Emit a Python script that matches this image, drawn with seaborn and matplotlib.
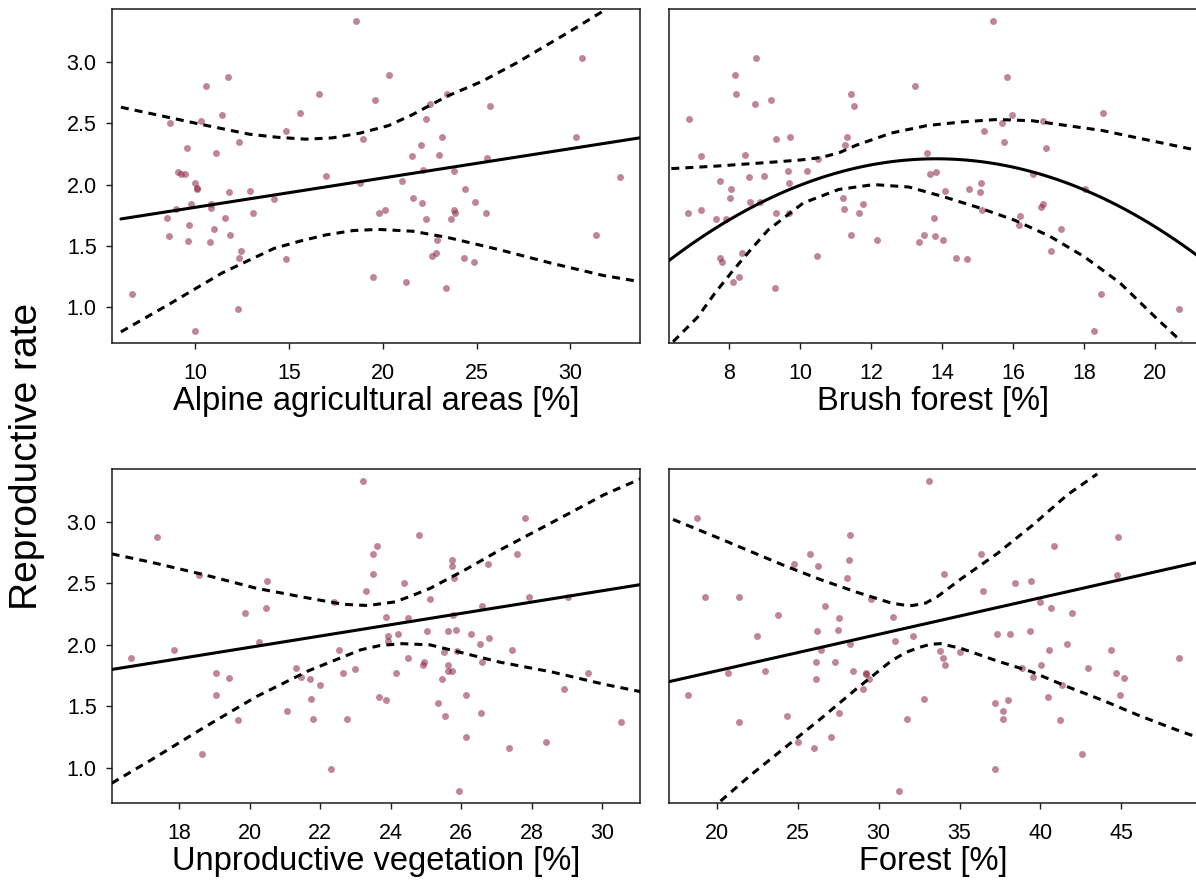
import numpy as np
import pandas as pd
import matplotlib
matplotlib.use("Agg")
import matplotlib.pyplot as plt
import seaborn as sns

# ---------------- data ----------------
# Panel 1: Alpine agricultural areas [%]
alp_x = [18.58, 30.61, 20.33, 11.73, 10.57, 16.62, 19.61, 23.43, 22.49, 25.72,
         15.57, 11.44, 22.31, 10.33, 8.67, 14.83, 30.31, 18.95, 23.14, 12.34,
         22.03, 9.56, 11.09, 21.57, 23.01, 25.55, 9.11, 9.26, 9.46, 22.12,
         23.80, 16.99, 32.64, 10.02, 18.80, 21.01, 10.11, 12.92, 11.83, 24.37,
         14.19, 9.76, 10.85, 10.85, 9.00, 21.62, 22.07, 24.94, 13.10, 19.82,
         20.11, 23.80, 23.84, 25.50, 8.49, 11.59, 22.31, 23.65, 9.67, 11.03,
         8.60, 11.86, 9.63, 10.81, 22.88, 31.38, 12.45, 12.32, 14.87, 22.62,
         22.84, 24.35, 24.85, 19.48, 21.24, 23.39, 6.64, 12.27, 10.00, 10.11]
alp_y = [3.33, 3.03, 2.89, 2.88, 2.80, 2.74, 2.69, 2.74, 2.66, 2.64,
         2.58, 2.57, 2.53, 2.52, 2.50, 2.44, 2.39, 2.37, 2.39, 2.35,
         2.32, 2.30, 2.26, 2.23, 2.24, 2.22, 2.10, 2.09, 2.09, 2.12,
         2.11, 2.07, 2.06, 2.01, 2.01, 2.03, 1.96, 1.95, 1.94, 1.96,
         1.88, 1.84, 1.84, 1.81, 1.80, 1.89, 1.85, 1.86, 1.77, 1.77,
         1.79, 1.79, 1.77, 1.77, 1.73, 1.73, 1.72, 1.72, 1.67, 1.64,
         1.58, 1.59, 1.54, 1.53, 1.55, 1.59, 1.46, 1.40, 1.39, 1.42,
         1.44, 1.40, 1.37, 1.25, 1.21, 1.16, 1.11, 0.99, 0.81, 1.97]
alp_fit_x = [6.05, 33.67]
alp_fit_y = [1.72, 2.38]
alp_up_x = [6.05, 8.2, 10.33, 12.9, 14.4, 15.87, 17.3, 18.82, 20.3, 21.59, 23.43, 25.28, 27.12, 29.89, 31.92]
alp_up_y = [2.63, 2.56, 2.49, 2.41, 2.385, 2.37, 2.38, 2.42, 2.48, 2.57, 2.72, 2.84, 2.99, 3.24, 3.43]
alp_lo_x = [6.05, 8.67, 11.44, 14.21, 15.6, 16.97, 18.4, 19.74, 21.59, 23.43, 26.2, 28.97, 31.73, 33.67]
alp_lo_y = [0.80, 1.03, 1.28, 1.48, 1.54, 1.59, 1.625, 1.635, 1.62, 1.57, 1.47, 1.36, 1.26, 1.21]

# Panel 2: Brush forest [%]
bru_x = [15.42, 8.74, 8.15, 15.84, 8.19, 13.23, 8.71, 9.17, 11.43, 11.52,
         18.53, 15.97, 6.86, 15.68, 16.83, 15.19, 9.32, 9.72, 11.32, 11.25,
         15.74, 16.94, 7.20, 8.45, 10.51, 13.58, 8.54, 8.98, 9.64, 10.20,
         13.66, 13.82, 16.55, 7.74, 9.67, 8.03, 8.01, 14.09, 14.75, 15.10,
         15.07, 18.03, 8.58, 8.86, 11.21, 11.77, 6.84, 7.20, 7.63, 7.89,
         9.30, 9.69, 11.22, 11.65, 15.12, 16.79, 16.83, 13.78, 16.20, 16.17,
         17.36, 11.43, 12.15, 13.35, 13.48, 13.81, 14.03, 7.73, 7.78, 8.36,
         10.48, 14.38, 14.69, 17.08, 8.28, 8.11, 9.28, 18.47, 20.68, 18.29]
bru_y = [3.33, 3.03, 2.89, 2.88, 2.74, 2.80, 2.66, 2.69, 2.74, 2.64,
         2.58, 2.57, 2.53, 2.50, 2.52, 2.44, 2.37, 2.39, 2.39, 2.32,
         2.35, 2.30, 2.23, 2.24, 2.21, 2.26, 2.06, 2.07, 2.11, 2.11,
         2.09, 2.10, 2.09, 2.03, 2.01, 1.96, 1.89, 1.95, 1.96, 2.01,
         1.94, 1.96, 1.86, 1.86, 1.89, 1.84, 1.77, 1.79, 1.72, 1.72,
         1.77, 1.77, 1.80, 1.77, 1.79, 1.82, 1.84, 1.73, 1.74, 1.67,
         1.64, 1.59, 1.55, 1.53, 1.59, 1.58, 1.55, 1.40, 1.37, 1.44,
         1.42, 1.40, 1.39, 1.46, 1.25, 1.21, 1.16, 1.11, 0.99, 0.81]
# fitted quadratic curve, read at several points along it
bru_fit_x = [6.28, 7.5, 8.6, 9.6, 10.58, 12.0, 13.0, 13.86, 14.8, 15.5, 16.54, 17.5, 18.52, 19.3, 20.0, 21.18]
bru_fit_y = [1.38, 1.62, 1.81, 1.95, 2.06, 2.16, 2.20, 2.21, 2.20, 2.17, 2.10, 2.01, 1.88, 1.78, 1.67, 1.42]
bru_up_x = [6.36, 7.6, 9.09, 10.0, 10.58, 11.1, 11.57, 12.57, 13.56, 14.55, 15.54, 16.54, 17.53, 18.52, 19.51, 21.18]
bru_up_y = [2.13, 2.15, 2.18, 2.20, 2.22, 2.26, 2.32, 2.42, 2.48, 2.51, 2.53, 2.52, 2.48, 2.44, 2.38, 2.28]
bru_lo_x = [6.41, 7.1, 7.6, 8.1, 8.6, 9.09, 10.08, 11.08, 12.07, 13.06, 14.05, 15.05, 16.04, 17.03, 18.02, 19.01, 20.01, 20.75]
bru_lo_y = [0.72, 0.92, 1.12, 1.30, 1.47, 1.63, 1.85, 1.96, 2.00, 1.98, 1.90, 1.81, 1.71, 1.58, 1.41, 1.20, 0.92, 0.72]

# Panel 3: Unproductive vegetation [%]
unp_x = [23.21, 27.80, 17.36, 24.79, 23.60, 23.49, 27.58, 25.75, 25.74, 26.76,
         23.49, 18.56, 25.79, 24.39, 20.48, 23.31, 25.12, 27.93, 29.04, 22.39,
         26.59, 20.47, 19.87, 23.88, 24.49, 25.77, 23.93, 24.22, 25.04, 25.63,
         25.86, 26.27, 26.78, 23.92, 26.53, 20.27, 16.64, 17.85, 22.53, 25.51,
         25.89, 27.43, 24.48, 24.94, 24.92, 25.63, 26.58, 21.31, 19.04, 22.64,
         22.98, 24.16, 25.64, 25.73, 29.61, 19.40, 21.44, 21.72, 25.46, 21.98,
         28.93, 19.04, 21.75, 23.68, 23.88, 25.34, 26.14, 21.06, 19.66, 21.80,
         22.77, 25.53, 26.57, 30.53, 26.13, 28.41, 27.37, 18.65, 22.31, 25.94]
unp_y = [3.33, 3.03, 2.88, 2.89, 2.80, 2.74, 2.74, 2.69, 2.64, 2.66,
         2.58, 2.57, 2.54, 2.50, 2.52, 2.44, 2.37, 2.39, 2.39, 2.35,
         2.32, 2.30, 2.26, 2.23, 2.22, 2.24, 2.07, 2.09, 2.11, 2.11,
         2.12, 2.09, 2.06, 2.03, 2.01, 2.02, 1.89, 1.96, 1.96, 1.94,
         1.95, 1.96, 1.89, 1.86, 1.84, 1.84, 1.86, 1.81, 1.77, 1.77,
         1.80, 1.77, 1.79, 1.79, 1.77, 1.73, 1.74, 1.72, 1.72, 1.67,
         1.64, 1.59, 1.56, 1.58, 1.55, 1.53, 1.59, 1.46, 1.39, 1.40,
         1.40, 1.42, 1.45, 1.37, 1.25, 1.21, 1.16, 1.11, 0.99, 0.81]
unp_fit_x = [16.08, 31.09]
unp_fit_y = [1.80, 2.49]
unp_up_x = [16.08, 17.23, 18.71, 20.19, 21.67, 22.65, 23.35, 24.13, 24.6, 25.12, 26.11, 27.09, 28.08, 29.07, 30.05, 31.09]
unp_up_y = [2.74, 2.67, 2.57, 2.46, 2.38, 2.33, 2.32, 2.35, 2.40, 2.46, 2.61, 2.77, 2.92, 3.07, 3.22, 3.35]
unp_lo_x = [16.08, 17.23, 18.71, 20.19, 21.67, 23.15, 23.7, 24.33, 25.12, 26.11, 27.09, 28.57, 30.05, 31.09]
unp_lo_y = [0.875, 1.07, 1.33, 1.58, 1.79, 1.96, 1.995, 2.01, 2.00, 1.93, 1.86, 1.78, 1.68, 1.62]

# Panel 4: Forest [%]
for_x = [33.09, 18.74, 28.23, 44.78, 40.84, 25.75, 36.31, 28.17, 24.77, 26.27,
         34.02, 44.76, 28.06, 38.42, 39.42, 36.46, 19.24, 21.33, 29.52, 39.97,
         26.71, 40.64, 41.97, 23.79, 27.56, 30.87, 22.46, 26.21, 27.47, 32.13,
         37.33, 38.14, 39.36, 28.21, 30.98, 41.65, 26.45, 33.78, 35.00, 40.54,
         44.39, 48.57, 33.96, 34.11, 26.12, 27.27, 40.01, 20.70, 22.94, 28.43,
         29.19, 38.84, 42.95, 44.67, 45.17, 26.14, 29.39, 39.56, 41.34, 29.04,
         18.21, 32.83, 37.20, 37.97, 40.49, 44.91, 37.66, 27.53, 21.39, 24.36,
         31.76, 37.66, 41.21, 27.03, 25.01, 25.99, 42.60, 37.20, 31.26, 29.19]
for_y = [3.33, 3.03, 2.89, 2.88, 2.80, 2.74, 2.74, 2.69, 2.66, 2.64,
         2.58, 2.57, 2.54, 2.50, 2.52, 2.44, 2.39, 2.39, 2.37, 2.35,
         2.32, 2.30, 2.26, 2.24, 2.22, 2.23, 2.07, 2.11, 2.12, 2.07,
         2.09, 2.09, 2.11, 2.01, 2.03, 2.01, 1.96, 1.95, 1.94, 1.96,
         1.96, 1.89, 1.89, 1.84, 1.86, 1.86, 1.84, 1.77, 1.79, 1.79,
         1.77, 1.81, 1.81, 1.77, 1.73, 1.72, 1.72, 1.74, 1.67, 1.64,
         1.59, 1.56, 1.53, 1.55, 1.58, 1.59, 1.46, 1.45, 1.37, 1.42,
         1.40, 1.40, 1.39, 1.25, 1.21, 1.16, 1.11, 0.99, 0.81, 1.76]
for_fit_x = [17.0, 49.68]
for_fit_y = [1.70, 2.67]
for_up_x = [17.28, 19.89, 22.07, 24.25, 26.42, 28.60, 30.78, 31.5, 32.09, 32.9, 33.61, 35.13, 37.31, 39.49, 41.67, 43.52]
for_up_y = [3.02, 2.88, 2.76, 2.64, 2.53, 2.43, 2.34, 2.325, 2.32, 2.34, 2.39, 2.54, 2.74, 2.97, 3.22, 3.39]
for_lo_x = [20.22, 22.07, 24.25, 26.42, 28.60, 30.78, 31.7, 32.52, 33.2, 33.83, 35.13, 37.31, 39.49, 41.67, 43.85, 46.02, 48.2, 49.68]
for_lo_y = [0.73, 0.94, 1.17, 1.40, 1.64, 1.87, 1.94, 1.98, 2.005, 2.01, 1.97, 1.87, 1.78, 1.66, 1.55, 1.43, 1.32, 1.25]

x_labels = ["Alpine agricultural areas [%]", "Brush forest [%]",
            "Unproductive vegetation [%]", "Forest [%]"]
x_ticks = [[10, 15, 20, 25, 30], [8, 10, 12, 14, 16, 18, 20],
           [18, 20, 22, 24, 26, 28, 30], [20, 25, 30, 35, 40, 45]]
x_limits = [(5.56, 33.73), (6.28, 21.2), (16.08, 31.09), (17.0, 49.72)]
y_ticks = [1.0, 1.5, 2.0, 2.5, 3.0]
y_limits = (0.712, 3.43)
y_label = "Reproductive rate"

# ---------------- styling ----------------
sns.set_theme(style="white")
plt.rcParams["font.family"] = ["Liberation Sans", "DejaVu Sans"]

W, H = 1196, 883
fig = plt.figure(figsize=(W / 100, H / 100), dpi=100)

def rect(l, r, t, b):
    return [l / W, 1 - b / H, (r - l) / W, (b - t) / H]

rects = [rect(111.7, 640.5, 9, 342.7), rect(668.5, 1197.5, 9, 342.7),
         rect(111.7, 640.5, 469, 803.3), rect(668.5, 1197.5, 469, 803.3)]

panels = [
    (alp_x, alp_y, alp_fit_x, alp_fit_y, alp_up_x, alp_up_y, alp_lo_x, alp_lo_y),
    (bru_x, bru_y, bru_fit_x, bru_fit_y, bru_up_x, bru_up_y, bru_lo_x, bru_lo_y),
    (unp_x, unp_y, unp_fit_x, unp_fit_y, unp_up_x, unp_up_y, unp_lo_x, unp_lo_y),
    (for_x, for_y, for_fit_x, for_fit_y, for_up_x, for_up_y, for_lo_x, for_lo_y),
]

point_color = "#8C2540"
for i, (px, py, fx, fy, ux, uy, lx, ly) in enumerate(panels):
    ax = fig.add_axes(rects[i])
    pts = pd.DataFrame({"x": px, "y": py})
    sns.scatterplot(data=pts, x="x", y="y", ax=ax, color=point_color,
                    alpha=0.55, s=25, linewidth=0, zorder=2)
    fit = pd.DataFrame({"x": fx, "y": fy})
    if i == 1:
        # quadratic model curve
        sns.regplot(data=fit, x="x", y="y", ax=ax, order=2, ci=None,
                    scatter=False, truncate=False,
                    line_kws={"color": "black", "lw": 2.2, "zorder": 3})
    else:
        sns.lineplot(data=fit, x="x", y="y", ax=ax, color="black", lw=2.2,
                     sort=False, estimator=None, zorder=3)
    for bx, by in ((ux, uy), (lx, ly)):
        band = pd.DataFrame({"x": bx, "y": by})
        sns.lineplot(data=band, x="x", y="y", ax=ax, color="black", lw=2.2,
                     sort=False, estimator=None, zorder=3,
                     linestyle=(0, (2.6, 2.0)))
    ax.set_xlim(*x_limits[i])
    ax.set_ylim(*y_limits)
    ax.set_xticks(x_ticks[i])
    ax.set_yticks(y_ticks)
    ax.set_yticklabels([f"{v:.1f}" for v in y_ticks])
    ax.set_xlabel(x_labels[i], fontsize=23.5, labelpad=1.5, color="black")
    ax.set_ylabel("")
    for sp in ax.spines.values():
        sp.set_color("#1a1a1a")
        sp.set_linewidth(1.1)
        sp.set_visible(True)
    ax.tick_params(axis="x", direction="out", length=4.3, width=1.0,
                   color="#1a1a1a", labelsize=15.5, pad=10, labelcolor="black",
                   bottom=True)
    if i % 2 == 0:
        ax.tick_params(axis="y", direction="out", length=4.3, width=1.0,
                       color="#1a1a1a", labelsize=15.5, pad=6.5,
                       labelcolor="black", left=True)
    else:
        ax.tick_params(axis="y", left=False, labelleft=False)
    ax.grid(False)

fig.text(27 / W, 1 - 456 / H, y_label, rotation=90, fontsize=28,
         ha="center", va="center", color="black")

fig.savefig("out.png", dpi=100, facecolor="white")
